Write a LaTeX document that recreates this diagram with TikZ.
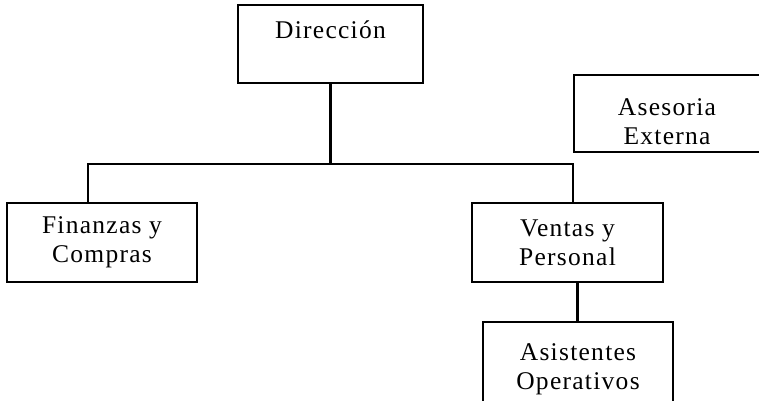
\documentclass[tikz,border=0pt]{standalone}
\usepackage{fontspec}
\setmainfont[LetterSpace=5]{Liberation Serif}
\begin{document}
\begin{tikzpicture}[x=1pt,y=-1pt,
  box/.style={draw=black, line width=2.2pt, rectangle, inner sep=0pt,
    align=center, font=\fontsize{25.5}{29}\selectfont},
  wire/.style={draw=black, line width=2.2pt},
  caption/.style={align=center, font=\fontsize{25.5}{29}\selectfont}]
\useasboundingbox (0,0) rectangle (759,400);
\clip (0,0) rectangle (759,400);
% boxes
\node[box, minimum width=185pt, minimum height=78pt] (dir) at (330.5,44) {Dirección\\~};
\node[box, minimum width=200pt, minimum height=77pt] (ases) at (674,113.5) {};
\node[caption] (asestext) at (667,121.5) {Asesoria\\Externa};
\node[box, minimum width=190pt, minimum height=79pt] (fin) at (102,242.5) {Finanzas y\\Compras};
\node[box, minimum width=191pt, minimum height=79pt] (ven) at (567.5,242.5) {Ventas y\\Personal};
\node[box, minimum width=190pt, minimum height=95pt] (asi) at (578,369.5) {Asistentes\\Operativos};
% connectors
\coordinate (busL) at (88,164);
\coordinate (busR) at (573,164);
\draw[wire] (dir.south) -- (dir.south |- busL);
\draw[wire] (fin.north -| busL) -- (busL) -- (busR) -- (ven.north -| busR);
\draw[wire] ([xshift=10pt]ven.south) -- ([xshift=10pt]ven.south |- asi.north);
\end{tikzpicture}
\end{document}
